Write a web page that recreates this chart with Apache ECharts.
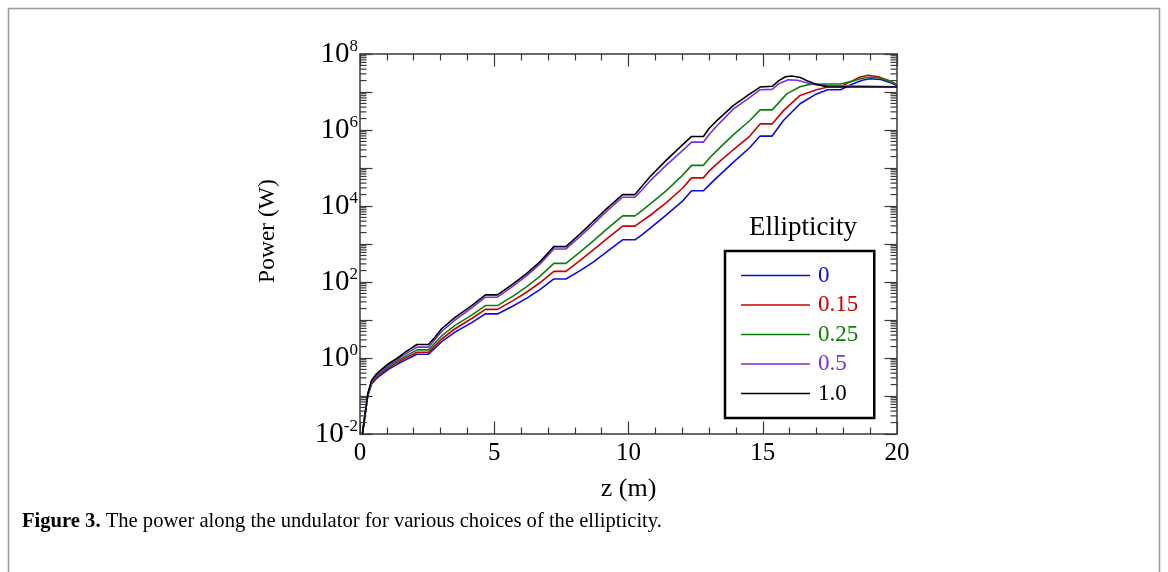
<!DOCTYPE html>
<html>
<head>
<meta charset="utf-8">
<script src="https://cdn.jsdelivr.net/npm/echarts@6/dist/echarts.min.js"></script>
<style>
html,body{margin:0;padding:0;background:#fff;}
#chart{width:1168px;height:572px;}
</style>
</head>
<body>
<div id="chart"></div>
<script>
// Power curves: [z (m), log10(Power / W)]
const ellipticities = ['0', '0.15', '0.25', '0.5', '1.0'];
const colors = ['#0a0aee', '#cc0000', '#0a820a', '#7a2ee6', '#000000'];

const curveE0 = [[0.09,-2.0],[0.19,-1.5],[0.29,-1.0],[0.43,-0.68],[0.6,-0.55],[0.75,-0.46],[1.06,-0.30],[1.4,-0.16],[1.7,-0.05],[2.12,0.10],[2.55,0.10],[3.04,0.43],[3.54,0.68],[4.16,0.93],[4.67,1.16],[5.12,1.16],[5.7,1.37],[6.2,1.57],[6.7,1.80],[7.22,2.08],[7.67,2.08],[8.2,2.30],[8.7,2.53],[9.2,2.80],[9.78,3.11],[10.24,3.11],[10.5,3.24],[10.8,3.41],[11.4,3.76],[12.0,4.12],[12.35,4.40],[12.79,4.40],[13.0,4.55],[13.28,4.74],[13.9,5.15],[14.52,5.54],[14.9,5.84],[15.35,5.84],[15.77,6.25],[16.39,6.69],[17.0,6.95],[17.42,7.06],[17.9,7.06],[18.3,7.20],[18.7,7.31],[19.0,7.35],[19.4,7.33],[19.7,7.26],[20.0,7.17]];
const curveE015 = [[0.09,-2.0],[0.19,-1.49],[0.29,-0.98],[0.43,-0.66],[0.6,-0.52],[0.75,-0.42],[1.06,-0.26],[1.4,-0.11],[1.7,0.0],[2.12,0.15],[2.55,0.15],[3.04,0.50],[3.54,0.77],[4.16,1.04],[4.67,1.28],[5.12,1.28],[5.7,1.51],[6.2,1.73],[6.7,1.98],[7.22,2.28],[7.67,2.28],[8.2,2.57],[8.7,2.85],[9.2,3.14],[9.78,3.47],[10.24,3.47],[10.5,3.60],[10.8,3.75],[11.4,4.08],[12.0,4.46],[12.35,4.74],[12.79,4.74],[13.0,4.92],[13.28,5.10],[13.9,5.48],[14.52,5.84],[14.9,6.16],[15.35,6.16],[15.77,6.51],[16.39,6.91],[17.0,7.06],[17.42,7.13],[17.9,7.14],[18.3,7.28],[18.6,7.39],[18.93,7.44],[19.3,7.40],[19.7,7.30],[20.0,7.20]];
const curveE025 = [[0.09,-2.0],[0.19,-1.48],[0.29,-0.97],[0.43,-0.64],[0.6,-0.49],[0.75,-0.39],[1.06,-0.22],[1.4,-0.07],[1.7,0.05],[2.12,0.215],[2.55,0.215],[3.04,0.58],[3.54,0.86],[4.16,1.13],[4.67,1.38],[5.12,1.38],[5.7,1.63],[6.2,1.87],[6.7,2.15],[7.22,2.49],[7.67,2.49],[8.2,2.79],[8.7,3.09],[9.2,3.40],[9.78,3.74],[10.24,3.74],[10.5,3.88],[10.8,4.05],[11.4,4.40],[12.0,4.80],[12.35,5.07],[12.79,5.07],[13.0,5.25],[13.28,5.45],[13.9,5.87],[14.52,6.25],[14.9,6.53],[15.35,6.53],[15.6,6.72],[15.89,6.95],[16.39,7.14],[16.76,7.20],[17.42,7.21],[17.9,7.21],[18.3,7.28],[18.7,7.36],[19.0,7.39],[19.4,7.36],[19.7,7.28],[20.0,7.20]];
const curveE05 = [[0.09,-2.0],[0.19,-1.48],[0.29,-0.95],[0.43,-0.61],[0.6,-0.46],[0.75,-0.36],[1.06,-0.18],[1.4,-0.03],[1.7,0.11],[2.12,0.285],[2.55,0.285],[3.04,0.70],[3.54,1.0],[4.16,1.32],[4.67,1.60],[5.12,1.60],[5.7,1.89],[6.2,2.16],[6.7,2.47],[7.22,2.87],[7.67,2.87],[8.2,3.20],[8.7,3.53],[9.2,3.87],[9.78,4.23],[10.24,4.23],[10.5,4.42],[10.8,4.66],[11.4,5.07],[12.0,5.45],[12.35,5.68],[12.79,5.68],[13.0,5.88],[13.28,6.10],[13.9,6.55],[14.52,6.86],[14.9,7.06],[15.35,7.07],[15.6,7.22],[15.95,7.32],[16.3,7.31],[16.8,7.21],[17.4,7.17],[18.0,7.16],[19.0,7.15],[20.0,7.14]];
const curveE10 = [[0.09,-2.0],[0.19,-1.47],[0.29,-0.94],[0.43,-0.59],[0.6,-0.43],[0.75,-0.33],[1.06,-0.15],[1.4,0.0],[1.7,0.16],[2.12,0.355],[2.55,0.355],[2.8,0.55],[3.04,0.77],[3.54,1.07],[4.16,1.38],[4.67,1.66],[5.12,1.66],[5.7,1.95],[6.2,2.22],[6.7,2.53],[7.22,2.93],[7.67,2.93],[8.2,3.27],[8.7,3.60],[9.2,3.94],[9.78,4.30],[10.24,4.30],[10.5,4.52],[10.8,4.77],[11.4,5.20],[12.0,5.60],[12.35,5.83],[12.79,5.83],[13.0,6.04],[13.28,6.24],[13.9,6.64],[14.52,6.95],[14.9,7.13],[15.35,7.15],[15.6,7.30],[15.85,7.40],[16.08,7.42],[16.4,7.38],[16.7,7.28],[17.0,7.20],[17.4,7.14],[18.0,7.13],[19.0,7.13],[20.0,7.13]];
const curves = [curveE0, curveE015, curveE025, curveE05, curveE10];

// Axis tick values
const xTicks = [0, 5, 10, 15, 20];
const yExponents = [-2, 0, 2, 4, 6, 8];
const minorDecades = [-2, -1, 0, 1, 2, 3, 4, 5, 6, 7];
const minorMultipliers = [2, 3, 4, 5, 6, 7, 8, 9];

const serif = '"Liberation Serif", "DejaVu Serif", serif';
const axisColor = '#3a3a3a';

const minorTickData = [];
minorDecades.forEach(d => minorMultipliers.forEach(k => minorTickData.push([0, d + Math.log10(k)])));

const chart = echarts.init(document.getElementById('chart'), null, {renderer: 'canvas'});

const baseX = {
  type: 'value', min: xTicks[0], max: xTicks[xTicks.length - 1], interval: 5,
  axisLine: {show: true, onZero: false, lineStyle: {color: axisColor, width: 1.5}},
  axisTick: {show: true, inside: true, length: 12.5, lineStyle: {color: axisColor, width: 1.2}},
  minorTick: {show: true, splitNumber: 5, length: 6.5, lineStyle: {color: axisColor, width: 1.2}},
  splitLine: {show: false}, minorSplitLine: {show: false}
};
const baseY = {
  type: 'value', min: yExponents[0], max: yExponents[yExponents.length - 1], interval: 1,
  axisLine: {show: true, onZero: false, lineStyle: {color: axisColor, width: 1.5}},
  axisTick: {show: true, inside: true, length: 12.5, interval: 0, lineStyle: {color: axisColor, width: 1.2}},
  splitLine: {show: false}
};

const series = curves.map((c, i) => ({
  name: ellipticities[i], type: 'line', data: c, showSymbol: false, symbol: 'none',
  xAxisIndex: 0, yAxisIndex: 0,
  lineStyle: {color: colors[i], width: 1.6}, itemStyle: {color: colors[i]},
  z: 3 + i, animation: false
}));

series.push({
  type: 'custom', name: 'minorTicks', xAxisIndex: 0, yAxisIndex: 0, silent: true, clip: false,
  data: minorTickData, z: 10,
  renderItem: function (params, api) {
    const cs = params.coordSys;
    const y = api.coord([0, api.value(1)])[1];
    const st = {stroke: axisColor, lineWidth: 1.2};
    return {type: 'group', children: [
      {type: 'line', shape: {x1: cs.x, y1: y, x2: cs.x + 6.5, y2: y}, style: st},
      {type: 'line', shape: {x1: cs.x + cs.width - 6.5, y1: y, x2: cs.x + cs.width, y2: y}, style: st}
    ]};
  }
});

const option = {
  animation: false,
  backgroundColor: '#ffffff',
  grid: {left: 360, top: 54, width: 537, height: 380, containLabel: false},
  xAxis: [
    Object.assign({}, baseX, {
      position: 'bottom',
      axisLabel: {show: true, color: '#000', fontFamily: serif, fontSize: 25, margin: 7},
      name: 'z (m)', nameLocation: 'middle', nameGap: 42,
      nameTextStyle: {color: '#000', fontFamily: serif, fontSize: 26}
    }),
    Object.assign({}, baseX, {position: 'top', axisLabel: {show: false}})
  ],
  yAxis: [
    Object.assign({}, baseY, {
      position: 'left',
      axisLabel: {
        show: true, margin: 2,
        formatter: v => (yExponents.indexOf(v) >= 0 ? '{b|10}{s|' + v + '}' : ''),
        rich: {
          b: {fontFamily: serif, fontSize: 29, color: '#000'},
          s: {fontFamily: serif, fontSize: 17, color: '#000', padding: [0, 0, 14, 0]}
        }
      }
    }),
    Object.assign({}, baseY, {position: 'right', axisLabel: {show: false}})
  ],
  legend: {
    show: true, orient: 'vertical', left: 725, top: 251,
    padding: [13, 16, 13, 16], itemGap: 6.5, itemWidth: 69, itemHeight: 1.6, icon: 'rect',
    borderColor: '#000', borderWidth: 2.5, backgroundColor: '#fff',
    textStyle: {fontFamily: serif, fontSize: 23, lineHeight: 22, padding: [0, 0, 0, 3]},
    data: ellipticities.map((e, i) => ({name: e, textStyle: {color: colors[i]}}))
  },
  graphic: [
    {type: 'rect', shape: {x: 8.5, y: 8.5, width: 1151, height: 640}, style: {fill: 'none', stroke: '#9a9a9a', lineWidth: 1.5}, silent: true},
    {type: 'text', x: 803, y: 228, style: {text: 'Ellipticity', fontFamily: serif, fontSize: 27, fill: '#000', align: 'center', verticalAlign: 'middle'}},
    {type: 'text', x: 268, y: 231, rotation: Math.PI / 2, style: {text: 'Power (W)', fontFamily: serif, fontSize: 23.5, fill: '#000', align: 'center', verticalAlign: 'middle'}},
    {type: 'text', x: 22, y: 522, style: {
      text: '{b|Figure 3.} The power along the undulator for various choices of the ellipticity.',
      fontFamily: serif, fontSize: 20.6, fill: '#000', verticalAlign: 'middle',
      rich: {b: {fontFamily: serif, fontSize: 20.6, fontWeight: 'bold', fill: '#000'}}
    }}
  ],
  series: series
};
chart.setOption(option);
</script>
</body>
</html>
